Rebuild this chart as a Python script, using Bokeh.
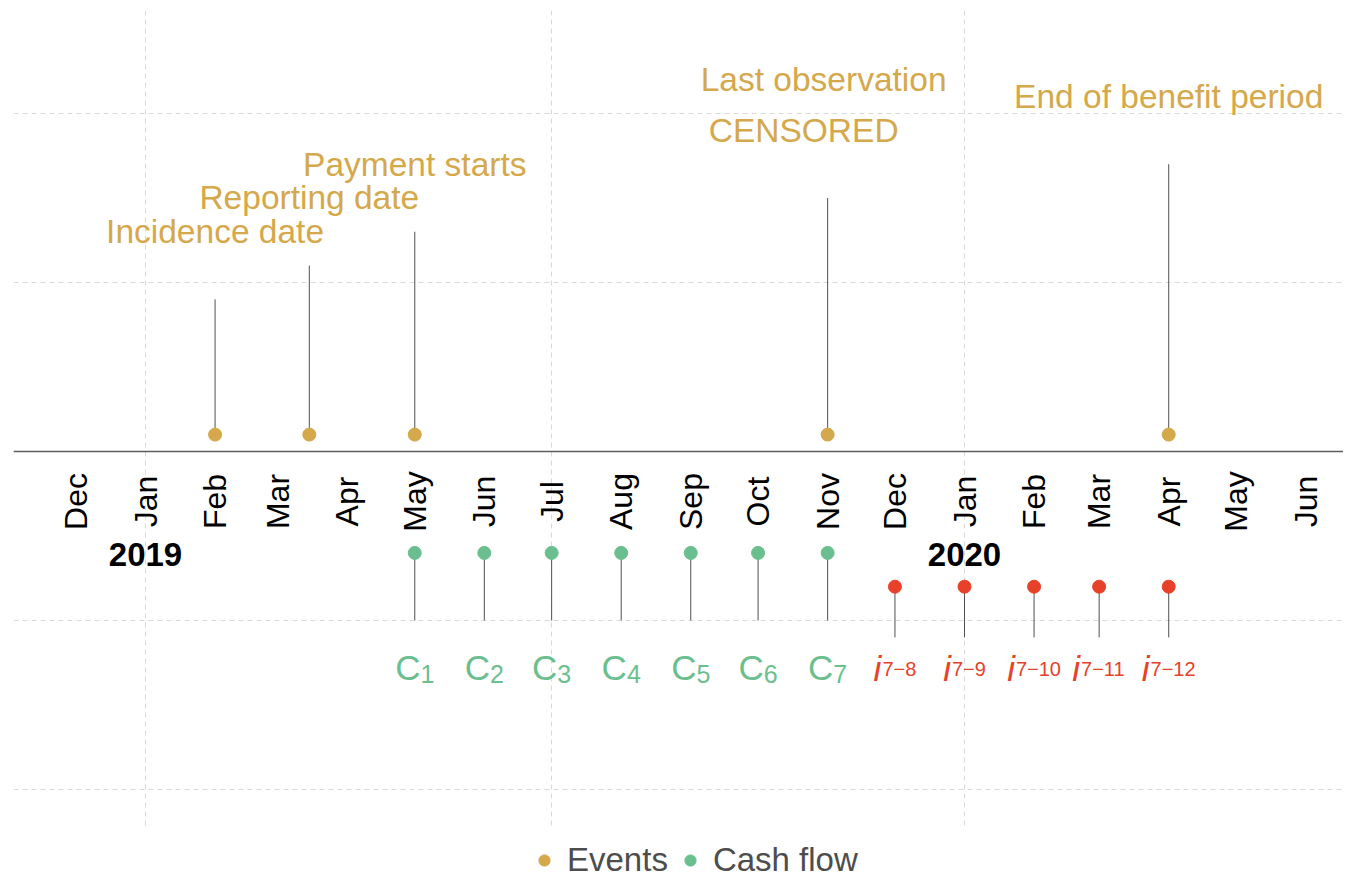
import math
import pandas as pd
from bokeh.plotting import figure
from bokeh.models import (ColumnDataSource, Range1d, FixedTicker, Span, Legend,
                          LegendItem, BoxAnnotation)
from bokeh.core.properties import value
from bokeh.embed import file_html
from bokeh.resources import INLINE

# ---------------- data ----------------
event_dates = ["2019-02-01", "2019-03-15", "2019-05-01", "2019-11-01", "2020-04-01"]
event_labels = ["Incidence date", "Reporting date", "Payment starts", "CENSORED", "End of benefit period"]
event_heights = [0.45, 0.55, 0.65, 0.75, 0.85]

extra_dates = ["2019-11-01"]
extra_labels = ["Last observation"]
extra_heights = [0.75]

cash_dates = ["2019-05-01", "2019-06-01", "2019-07-01", "2019-08-01",
              "2019-09-01", "2019-10-01", "2019-11-01"]
cash_subs = ["1", "2", "3", "4", "5", "6", "7"]

int_dates = ["2019-12-01", "2020-01-01", "2020-02-01", "2020-03-01", "2020-04-01"]
int_subs = ["7\u22128", "7\u22129", "7\u221210", "7\u221211", "7\u221212"]

month_dates = ["2018-12-01", "2019-01-01", "2019-02-01", "2019-03-01", "2019-04-01",
               "2019-05-01", "2019-06-01", "2019-07-01", "2019-08-01", "2019-09-01",
               "2019-10-01", "2019-11-01", "2019-12-01", "2020-01-01", "2020-02-01",
               "2020-03-01", "2020-04-01", "2020-05-01", "2020-06-01"]
month_labels = ["Dec", "Jan", "Feb", "Mar", "Apr", "May", "Jun", "Jul", "Aug", "Sep",
                "Oct", "Nov", "Dec", "Jan", "Feb", "Mar", "Apr", "May", "Jun"]

year_dates = ["2019-01-01", "2020-01-01"]
year_labels = ["2019", "2020"]

grid_dates = ["2019-01-01", "2019-07-01", "2020-01-01"]
grid_y = [-1.0, -0.5, 0.0, 0.5, 1.0]

# ---------------- style ----------------
GOLD = "#D4A84B"
GREEN = "#6BBF8E"
RED = "#E8412A"
STEM = "#505050"
FONT_NAME = "Liberation Sans"
FONT = value(FONT_NAME)

EVENT_Y = 0.05
LABEL_SHIFT = 0.2
EXTRA_SHIFT = 0.35
CASH_Y, CASH_END = -0.30, -0.50
INT_Y, INT_END = -0.40, -0.55
MONTH_Y = -0.148
YEAR_Y = -0.305
C_BASE_Y = -0.640
I_BASE_Y = -0.643

def dt(s):
    return pd.to_datetime(s)

def ms(ts):
    return pd.Timestamp(ts).value / 1e6

x_start = ms(pd.Timestamp("2019-01-01") - pd.Timedelta(days=58.83))
x_end = ms(pd.Timestamp("2020-01-01") + pd.Timedelta(days=168.9))

p = figure(width=1343, height=879, x_axis_type="datetime",
           x_range=Range1d(x_start, x_end), y_range=Range1d(-1.2663, 1.3047),
           toolbar_location=None, output_backend="svg",
           min_border_left=13, min_border_right=0, min_border_top=10, min_border_bottom=0)
p.outline_line_color = None
p.xaxis.visible = False
p.yaxis.visible = False
p.background_fill_color = "white"

p.xgrid.ticker = FixedTicker(ticks=[ms(d) for d in grid_dates])
p.ygrid.ticker = FixedTicker(ticks=grid_y)
for g in (p.xgrid[0], p.ygrid[0]):
    g.grid_line_color = "#D9D9D9"
    g.grid_line_dash = "5 4"
    g.grid_line_width = 1

# white strip under the panel (legend area)
p.add_layout(BoxAnnotation(top=-1.112, fill_color="white", fill_alpha=1.0,
                           line_alpha=0, level="underlay"))

# timeline
p.add_layout(Span(location=0, dimension="width", line_color="#5C5C5C", line_width=1.6))

# ---------------- events ----------------
ev = ColumnDataSource(dict(x=dt(event_dates), h=event_heights,
                           base=[EVENT_Y] * len(event_dates),
                           ty=[h + LABEL_SHIFT for h in event_heights],
                           lab=event_labels,
                           xo=[0, 0, 0, -24, 0]))
p.segment(x0="x", y0="base", x1="x", y1="h", source=ev, line_color=STEM, line_width=1)
ev_r = p.scatter(x="x", y="base", source=ev, size=13, fill_color=GOLD, line_color=GOLD)
p.text(x="x", y="ty", text="lab", source=ev, x_offset="xo", text_font=FONT,
       text_font_size="33.5px", text_color=GOLD, text_align="center", text_baseline="middle")

ex = ColumnDataSource(dict(x=dt(extra_dates), ty=[h + EXTRA_SHIFT for h in extra_heights],
                           lab=extra_labels))
p.text(x="x", y="ty", text="lab", source=ex, x_offset=-4, text_font=FONT,
       text_font_size="33.5px", text_color=GOLD, text_align="center", text_baseline="middle")

# ---------------- month & year labels ----------------
mo = ColumnDataSource(dict(x=dt(month_dates), y=[MONTH_Y] * len(month_dates), lab=month_labels))
p.text(x="x", y="y", text="lab", source=mo, angle=math.pi / 2, text_font=FONT,
       text_font_size="32px", text_color="black", text_align="center", text_baseline="middle")

yr = ColumnDataSource(dict(x=dt(year_dates), y=[YEAR_Y] * len(year_dates), lab=year_labels))
p.text(x="x", y="y", text="lab", source=yr, text_font=FONT, text_font_style="bold",
       text_font_size="33px", text_color="black", text_align="center", text_baseline="middle")

# ---------------- label helpers ----------------
W = {"0": .556, "1": .556, "2": .556, "3": .556, "4": .556, "5": .556, "6": .556,
     "7": .556, "8": .556, "9": .556, "\u2212": .584}
MAIN_FS = 35
C_SUB_FS, I_SUB_FS = 25, 20

def offsets(main_w, subs, sub_fs):
    mo_, so_ = [], []
    for s in subs:
        sw = sum(W.get(c, .556) for c in s) * sub_fs
        tot = main_w + sw
        mo_.append(-tot / 2)
        so_.append(-tot / 2 + main_w)
    return mo_, so_

# ---------------- cash flows ----------------
cm, cs = offsets(0.722 * MAIN_FS, cash_subs, C_SUB_FS)
cf = ColumnDataSource(dict(x=dt(cash_dates), y=[CASH_Y] * len(cash_dates),
                           y1=[CASH_END] * len(cash_dates),
                           ly=[C_BASE_Y] * len(cash_dates),
                           main=["C"] * len(cash_dates), sub=cash_subs, mo=cm, so=cs))
p.segment(x0="x", y0="y", x1="x", y1="y1", source=cf, line_color=STEM, line_width=1)
cf_r = p.scatter(x="x", y="y", source=cf, size=13, fill_color=GREEN, line_color=GREEN)
p.text(x="x", y="ly", text="main", source=cf, x_offset="mo", text_font=FONT,
       text_font_size=f"{MAIN_FS}px", text_color=GREEN, text_align="left",
       text_baseline="alphabetic")
p.text(x="x", y="ly", text="sub", source=cf, x_offset="so", y_offset=6, text_font=FONT,
       text_font_size=f"{C_SUB_FS}px", text_color=GREEN, text_align="left",
       text_baseline="alphabetic")

# ---------------- interest ----------------
im, isub = offsets(0.222 * MAIN_FS + 1, int_subs, I_SUB_FS)
it = ColumnDataSource(dict(x=dt(int_dates), y=[INT_Y] * len(int_dates),
                           y1=[INT_END] * len(int_dates),
                           ly=[I_BASE_Y] * len(int_dates),
                           main=["i"] * len(int_dates), sub=int_subs, mo=im, so=isub))
p.segment(x0="x", y0="y", x1="x", y1="y1", source=it, line_color=STEM, line_width=1)
p.scatter(x="x", y="y", source=it, size=13, fill_color=RED, line_color=RED)
p.text(x="x", y="ly", text="main", source=it, x_offset="mo", text_font=FONT,
       text_font_style="italic", text_font_size=f"{MAIN_FS}px", text_color=RED,
       text_align="left", text_baseline="alphabetic")
p.text(x="x", y="ly", text="sub", source=it, x_offset="so", y_offset=0, text_font=FONT,
       text_font_size=f"{I_SUB_FS}px", text_color=RED, text_align="left",
       text_baseline="alphabetic")

# ---------------- legend ----------------
legend = Legend(items=[LegendItem(label="Events", renderers=[ev_r]),
                       LegendItem(label="Cash flow", renderers=[cf_r])],
                location=(515, 0), orientation="horizontal",
                label_text_font=FONT_NAME, label_text_font_size="33px",
                label_text_color="#4D4D4D", glyph_width=32, glyph_height=28,
                label_standoff=7, spacing=6, padding=0, margin=0,
                border_line_alpha=0, background_fill_alpha=0)
p.add_layout(legend)

open("out.html", "w").write(file_html(p, INLINE))
